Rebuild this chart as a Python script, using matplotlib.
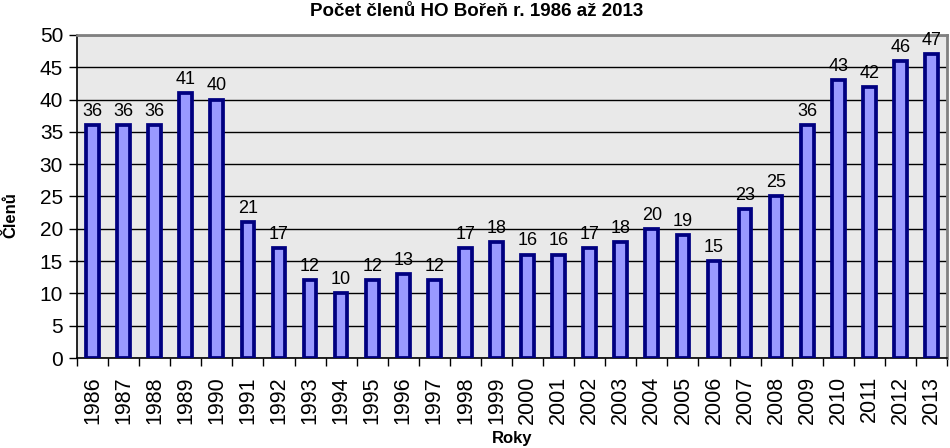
import matplotlib
matplotlib.use("Agg")
import matplotlib.pyplot as plt
import numpy as np

years = [str(y) for y in range(1986, 2014)]
members = [36, 36, 36, 41, 40, 21, 17, 12, 10, 12, 13, 12, 17, 18, 16, 16,
           17, 18, 20, 19, 15, 23, 25, 36, 43, 42, 46, 47]
yticks = [0, 5, 10, 15, 20, 25, 30, 35, 40, 45, 50]

plt.rcParams['font.family'] = ['Liberation Sans', 'DejaVu Sans']

fig = plt.figure(figsize=(9.5, 4.48), dpi=100)
ax = fig.add_axes([77/950, 1-358/448, 870/950, 323/448])
ax.set_facecolor('#e9e9e9')

x = np.arange(len(years))
bars = ax.bar(x, members, width=0.41, color='#9999ff', edgecolor='#000080',
              linewidth=2.7, zorder=3)
for xi, v in zip(x, members):
    ax.text(xi, v + 0.8, str(v), ha='center', va='bottom', fontsize=13, zorder=4)

ax.set_xlim(-0.5, len(years) - 0.5)
ax.set_ylim(0, 50)
ax.set_yticks(yticks)
ax.set_yticklabels([str(t) for t in yticks], fontsize=15)
ax.yaxis.grid(True, color='black', linewidth=1.0, zorder=1)
ax.set_axisbelow(True)

ax.set_xticks(x)
ax.set_xticklabels(years, rotation=90, fontsize=15.5)
ax.set_xticks(np.arange(-0.5, len(years), 1.0), minor=True)
ax.tick_params(axis='x', which='major', length=0, pad=13)
ax.tick_params(axis='x', which='minor', length=6, width=1, direction='out')
ax.tick_params(axis='y', length=6, width=1, direction='out', pad=4)

for s in ['left', 'bottom']:
    ax.spines[s].set_color('black')
    ax.spines[s].set_linewidth(1.2)
for s in ['top', 'right']:
    ax.spines[s].set_color('#808080')
    ax.spines[s].set_linewidth(2)

fig.text(477/950, 1-12/448, 'Počet členů HO Bořeň r. 1986 až 2013', ha='center',
         va='center', fontsize=13.5, fontweight='bold')
fig.text(512/950, 1-438/448, 'Roky', ha='center', va='center', fontsize=12,
         fontweight='bold')
fig.text(11/950, 1-215/448, 'Členů', ha='center', va='center', fontsize=12,
         fontweight='bold', rotation=90)

fig.savefig('out.png', dpi=100)
